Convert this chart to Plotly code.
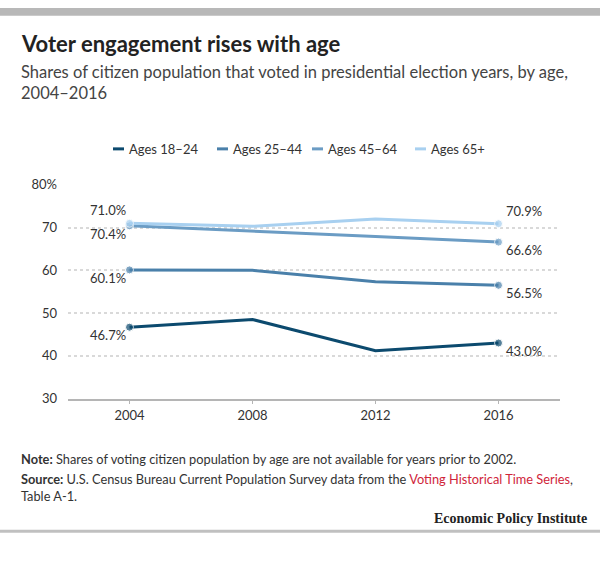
import plotly.graph_objects as go

W, H = 600, 563

years = [2004, 2008, 2012, 2016]
series_names = ["Ages 18–24", "Ages 25–44", "Ages 45–64", "Ages 65+"]
ages_18_24 = [46.7, 48.5, 41.2, 43.0]
ages_25_44 = [60.1, 60.0, 57.3, 56.5]
ages_45_64 = [70.4, 69.2, 67.9, 66.6]
ages_65_plus = [71.0, 70.3, 72.0, 70.9]
series_values = [ages_18_24, ages_25_44, ages_45_64, ages_65_plus]
colors = ["#0c4a6e", "#4a80aa", "#6b9cc4", "#a8d0f0"]

y_tickvals = [30, 40, 50, 60, 70, 80]
y_ticktext = ["30", "40", "50", "60", "70", "80%"]

FONT = "Lato"
TXT = "#333333"


def py(px):
    return 1 - px / H


def pxx(px):
    return px / W


fig = go.Figure()
for name, vals, col in zip(series_names, series_values, colors):
    fig.add_trace(go.Scatter(
        x=years, y=vals, name=name, mode="lines+markers",
        line=dict(color=col, width=3),
        marker=dict(color=col, size=[8, 0, 0, 8]),
        showlegend=False, cliponaxis=False,
    ))

annotations = []
# data labels at first / last points: (series index, above?)
label_pos = {0: False, 1: False, 2: False, 3: True}
for i, vals in enumerate(series_values):
    above = label_pos[i]
    for j in (0, len(years) - 1):
        left = j == 0
        annotations.append(dict(
            x=years[j], y=vals[j], xref="x", yref="y",
            text=f"{vals[j]:.1f}%", showarrow=False,
            xanchor="right" if left else "left",
            yanchor="middle",
            xshift=-2 if left else 5,
            yshift=13 if above else -8,
            font=dict(family=FONT, size=13, color=TXT),
        ))

# title & subtitle
annotations.append(dict(
    x=pxx(19), y=py(37), xref="paper", yref="paper", xanchor="left", yanchor="middle",
    text="<b>Voter engagement rises with age</b>", showarrow=False,
    font=dict(family=FONT, size=22, color="#222222"),
))
annotations.append(dict(
    x=pxx(19), y=py(77), xref="paper", yref="paper", xanchor="left", yanchor="middle",
    text="Shares of citizen population that voted in presidential election years, by age,<br>2004–2016",
    showarrow=False, align="left",
    font=dict(family=FONT, size=16.5, color="#444444"),
))

# legend (manual)
legend_x = [113, 217, 312, 415]
shapes = []
for name, col, lx in zip(series_names, colors, legend_x):
    shapes.append(dict(type="line", xref="paper", yref="paper",
                       x0=pxx(lx), x1=pxx(lx + 11), y0=py(145), y1=py(145),
                       line=dict(color=col, width=3)))
    annotations.append(dict(
        x=pxx(lx + 14), y=py(145), xref="paper", yref="paper",
        xanchor="left", yanchor="middle", text=name, showarrow=False,
        font=dict(family=FONT, size=13, color=TXT),
    ))

# notes
annotations.append(dict(
    x=pxx(19), y=py(464), xref="paper", yref="paper", xanchor="left", yanchor="middle",
    text="<b>Note:</b> Shares of voting citizen population by age are not available for years prior to 2002.",
    showarrow=False, font=dict(family=FONT, size=12.8, color=TXT),
))
annotations.append(dict(
    x=pxx(19), y=py(494), xref="paper", yref="paper", xanchor="left", yanchor="middle",
    text=("<b>Source:</b> U.S. Census Bureau Current Population Survey data from the "
          "<span style='color:#d0253a'>Voting Historical Time Series</span>,<br>Table A-1."),
    showarrow=False, align="left",
    font=dict(family=FONT, size=12.8, color=TXT),
))
annotations.append(dict(
    x=pxx(589), y=py(525), xref="paper", yref="paper", xanchor="right", yanchor="middle",
    text="<b>Economic Policy Institute</b>", showarrow=False,
    font=dict(family="Liberation Serif", size=14, color="#222222"),
))

# top bar and bottom rule
shapes.append(dict(type="rect", xref="paper", yref="paper", x0=0, x1=1,
                   y0=py(8), y1=1, fillcolor="#b8b8b8", line=dict(width=0)))
shapes.append(dict(type="rect", xref="paper", yref="paper", x0=0, x1=1,
                   y0=py(540), y1=py(537), fillcolor="#c0c0c0", line=dict(width=0)))

fig.update_layout(
    width=W, height=H,
    margin=dict(l=0, r=0, t=0, b=0),
    paper_bgcolor="white", plot_bgcolor="white",
    font=dict(family=FONT, size=13, color=TXT),
    annotations=annotations, shapes=shapes,
    showlegend=False,
    xaxis=dict(
        domain=[pxx(68), pxx(560)], range=[2002, 2018],
        tickvals=years, ticktext=[str(y) for y in years],
        showgrid=False, zeroline=False,
        showline=True, linecolor="#b5b5b5", linewidth=1.5,
        ticks="outside", ticklen=4, tickcolor="#b5b5b5", tickwidth=1,
        tickfont=dict(family=FONT, size=13, color=TXT),
    ),
    yaxis=dict(
        domain=[py(402), py(182)], range=[30, 80],
        tickvals=y_tickvals, ticktext=y_ticktext,
        showgrid=True, gridcolor="#d9d9d9", griddash="dot", gridwidth=2,
        zeroline=False, showline=False, ticks="",
        ticklabelstandoff=10,
        tickfont=dict(family=FONT, size=13, color=TXT),
    ),
)

fig.write_html("out.html")
